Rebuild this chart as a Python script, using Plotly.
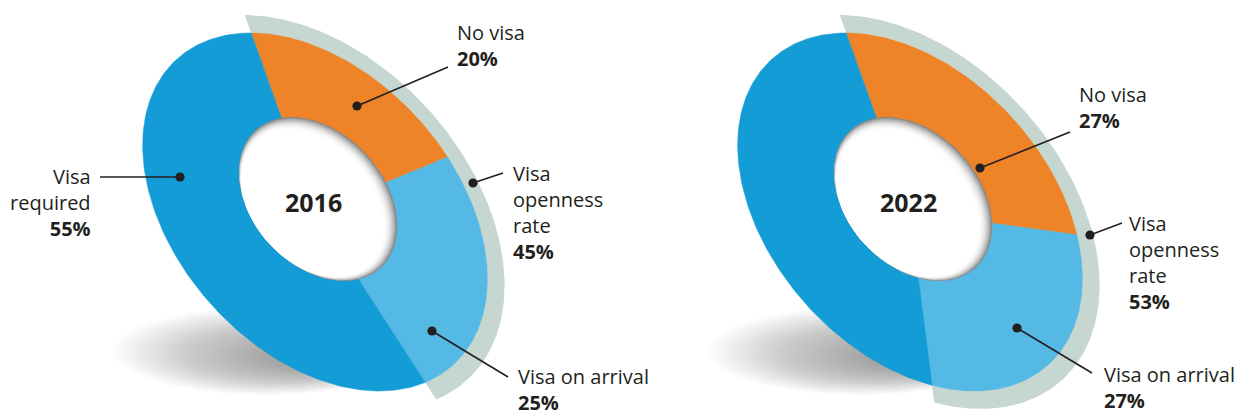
import numpy as np
import plotly.graph_objects as go

# ---------------- data ----------------
years = ["2016", "2022"]
categories = ["No visa", "Visa on arrival", "Visa required"]
no_visa = [20, 27]
visa_on_arrival = [25, 27]
visa_required = [55, 46]
openness_rate = [45, 53]
show_required_label = [True, False]

# ---------------- style / layout ----------------
COLORS = {"No visa": "#EE8427", "Visa on arrival": "#55B9E5", "Visa required": "#139CD6"}
BAND = "#C5D7D0"
TEXT = "#231F20"
FONT = "Open Sans"
W, H = 1242, 415
CENTERS = [(315, 212), (910, 212)]
A, B = 206, 139
PHI = np.radians(47.9)
HOLE_OFF = (3, -13)
HA, HB = 93, 66
START = np.radians(-148.5)
BAND_SCALE = 1.1

cphi, sphi = np.cos(PHI), np.sin(PHI)


def ell(cx, cy, a, b, t):
    return (cx + a * np.cos(t) * cphi - b * np.sin(t) * sphi,
            cy + a * np.cos(t) * sphi + b * np.sin(t) * cphi)


def poly(fig, xs, ys, color, line=None):
    fig.add_trace(go.Scatter(x=list(xs), y=list(ys), mode="lines", fill="toself",
                             fillcolor=color, line=dict(width=0 if line is None else line, color=color),
                             hoverinfo="skip", showlegend=False))


def wedge(cx, cy, a, b, t0, t1):
    n = max(int(abs(t1 - t0) / np.radians(1)) + 2, 3)
    t = np.linspace(t0, t1, n)
    x, y = ell(cx, cy, a, b, t)
    return np.r_[cx, x, cx], np.r_[cy, y, cy]


fig = go.Figure()

for i, (cx, cy) in enumerate(CENTERS):
    # ground shadow (soft, many faint layers)
    nsh = 40
    for j in range(nsh):
        f = j / (nsh - 1)
        s = 1 - f * 0.8
        scx = cx - 50 + f * 50
        scy = cy + 139 + f * 6
        t = np.linspace(0, 2 * np.pi, 120)
        poly(fig, scx + 152 * s * np.cos(t), scy + 44 * s * np.sin(t), "rgba(105,108,118,0.019)")

    # openness band
    band_vals = no_visa[i] + visa_on_arrival[i]
    bx, by = wedge(cx, cy, A * BAND_SCALE, B * BAND_SCALE, START, START + np.radians(3.6 * band_vals))
    poly(fig, bx, by, BAND)

    # slices
    vals = [no_visa[i], visa_on_arrival[i], visa_required[i]]
    total = sum(vals)
    t0 = START
    for cat, v in zip(categories, vals):
        t1 = t0 + 2 * np.pi * v / total
        x, y = wedge(cx, cy, A, B, t0, t1)
        poly(fig, x, y, COLORS[cat], line=0.5)
        t0 = t1

    # hole with inset shadow
    hcx, hcy = cx + HOLE_OFF[0], cy + HOLE_OFF[1]
    px, py = ell(hcx, hcy, HA, HB, np.radians(95))
    t = np.linspace(0, 2 * np.pi, 160)
    hx, hy = ell(hcx, hcy, HA, HB, t)
    nl = 14
    for j in range(nl + 1):
        k = 1 - j * 0.0075
        frac = j / nl
        g = int(255 - 120 * (1 - frac) ** 2.2)
        poly(fig, px + k * (hx - px), py + k * (hy - py), f"rgb({g},{g},{g})")

    # year label
    fig.add_annotation(x=hcx - 5, y=cy - 10, text=f"<b>{years[i]}</b>", showarrow=False,
                       font=dict(family=FONT, size=25, color=TEXT), xanchor="center", yanchor="middle")

# ---------------- labels (leader lines + dots) ----------------
labels = [
    # chart, key, dot, line end, text x, text mid y, anchor
    (0, "required", (180, 177), (100, 177), 93, 202, "right"),
    (0, "no", (357, 106), (448, 67), 455, 45, "left"),
    (0, "open", (473, 183), (503, 173), 511, 212, "left"),
    (0, "arrival", (432, 331), (508, 377), 516, 389, "left"),
    (1, "no", (980, 168), (1070, 132), 1077, 107, "left"),
    (1, "open", (1090, 235), (1122, 223), 1127, 262, "left"),
    (1, "arrival", (1017, 328), (1092, 373), 1102, 387, "left"),
]
for ci, key, dot, end, tx, ty, anc in labels:
    if key == "required" and not show_required_label[ci]:
        continue
    if key == "required":
        txt = f"Visa<br>required<br><b>{visa_required[ci]}%</b>"
    elif key == "no":
        txt = f"No visa<br><b>{no_visa[ci]}%</b>"
    elif key == "open":
        txt = f"Visa<br>openness<br>rate<br><b>{openness_rate[ci]}%</b>"
    else:
        txt = f"Visa on arrival<br><b>{visa_on_arrival[ci]}%</b>"
    fig.add_shape(type="line", x0=dot[0], y0=dot[1], x1=end[0], y1=end[1],
                  line=dict(color=TEXT, width=1.6), layer="above")
    r = 4.6
    fig.add_shape(type="circle", x0=dot[0] - r, y0=dot[1] - r, x1=dot[0] + r, y1=dot[1] + r,
                  fillcolor=TEXT, line=dict(width=0), layer="above")
    fig.add_annotation(x=tx, y=ty, text=txt, showarrow=False, xanchor=anc, yanchor="middle",
                       align=anc, font=dict(family=FONT, size=20, color=TEXT))

fig.update_layout(
    width=W, height=H, margin=dict(l=0, r=0, t=0, b=0),
    paper_bgcolor="white", plot_bgcolor="white", showlegend=False,
    xaxis=dict(range=[0, W], visible=False, fixedrange=True),
    yaxis=dict(range=[H, 0], visible=False, fixedrange=True),
)
fig.write_html("out.html")
